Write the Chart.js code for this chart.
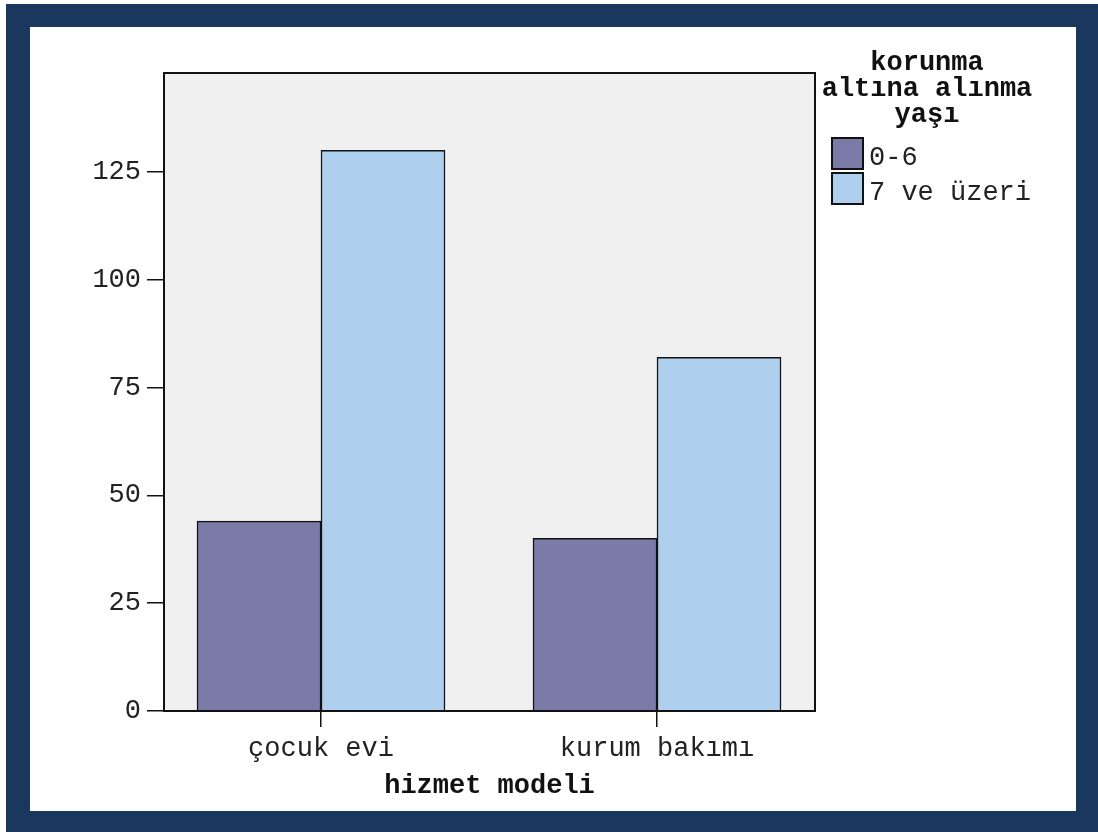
<!DOCTYPE html>
<html>
<head>
<meta charset="utf-8">
<script src="https://cdn.jsdelivr.net/npm/chart.js@4/dist/chart.umd.min.js"></script>
<style>
  html, body { margin: 0; padding: 0; background: #ffffff; width: 1098px; height: 832px; overflow: hidden; }
  #frame { position: absolute; left: 6px; top: 4px; width: 1092px; height: 828px; background: #1a375e; }
  #inner { position: absolute; left: 30px; top: 27px; width: 1046px; height: 784px; background: #ffffff; }
  #wrap { position: absolute; left: 0; top: 0; width: 1098px; height: 832px; }
</style>
</head>
<body>
<div id="frame"></div>
<div id="inner"></div>
<div id="wrap"><canvas id="c" width="1098" height="832"></canvas></div>
<script>
const categories = ['çocuk evi', 'kurum bakımı'];
const seriesNames = ['0-6', '7 ve üzeri'];
const values06 = [44, 40];
const values7plus = [130, 82];
const yTicks = [0, 25, 50, 75, 100, 125];
const xTitle = 'hizmet modeli';
const legendTitle = ['korunma', 'altına alınma', 'yaşı'];
const colors = ['#7b7ba8', '#aed0ee'];

const FONT = '"Liberation Mono", "Courier New", monospace';

const plotBox = {
  id: 'plotBox',
  beforeDatasetsDraw(chart) {
    const a = chart.chartArea, ctx = chart.ctx;
    ctx.save();
    ctx.fillStyle = '#f0f0f0';
    ctx.fillRect(a.left, a.top, a.right - a.left, a.bottom - a.top);
    ctx.restore();
  },
  afterDatasetsDraw(chart) {
    const a = chart.chartArea, ctx = chart.ctx;
    ctx.save();
    ctx.strokeStyle = '#111';
    ctx.lineWidth = 2;
    ctx.strokeRect(a.left, a.top, a.right - a.left, a.bottom - a.top);
    ctx.restore();
  }
};

const customLegend = {
  id: 'customLegend',
  afterDraw(chart) {
    const ctx = chart.ctx;
    ctx.save();
    ctx.fillStyle = '#111';
    ctx.font = 'bold 27px ' + FONT;
    ctx.textAlign = 'center';
    ctx.textBaseline = 'middle';
    const tys = [63, 89, 115];
    legendTitle.forEach((t, i) => ctx.fillText(t, 927, tys[i]));
    const boxY = [138, 173];
    chart.data.datasets.forEach((ds, i) => {
      ctx.fillStyle = ds.backgroundColor;
      ctx.fillRect(832, boxY[i], 31, 31);
      ctx.strokeStyle = '#111';
      ctx.lineWidth = 2;
      ctx.strokeRect(832, boxY[i], 31, 31);
      ctx.fillStyle = '#222';
      ctx.font = '27px ' + FONT;
      ctx.textAlign = 'left';
      ctx.fillText(ds.label, 869, boxY[i] + 20);
    });
    ctx.restore();
  }
};

const mkData = vals => categories.map((c, i) => ({ x: i, y: vals[i] }));

new Chart(document.getElementById('c'), {
  type: 'bar',
  data: {
    datasets: [
      { label: seriesNames[0], data: mkData(values06), backgroundColor: colors[0], borderColor: '#111', borderWidth: 1.5, barThickness: 124 },
      { label: seriesNames[1], data: mkData(values7plus), backgroundColor: colors[1], borderColor: '#111', borderWidth: 1.5, barThickness: 124 }
    ]
  },
  options: {
    responsive: false,
    animation: false,
    layout: { padding: { left: 0, top: 73, right: 283, bottom: 0 } },
    plugins: { legend: { display: false }, tooltip: { enabled: false } },
    scales: {
      x: {
        type: 'linear',
        min: -0.4673,
        max: 1.4702,
        offset: false,
        afterBuildTicks(scale) { scale.ticks = categories.map((c, i) => ({ value: i })); },
        afterFit(scale) { scale.height = 121; },
        grid: { offset: false, drawOnChartArea: false, drawTicks: true, tickLength: 16, color: '#111', lineWidth: 1.5 },
        border: { display: false },
        ticks: {
          callback: v => categories[v] !== undefined ? categories[v] : '',
          font: { family: FONT, size: 27 },
          color: '#222',
          padding: 6,
          maxRotation: 0
        },
        title: { display: true, text: xTitle, font: { family: FONT, size: 27, weight: 'bold' }, color: '#111', padding: { top: 8, bottom: 30 } }
      },
      y: {
        min: 0,
        max: 147.9,
        afterBuildTicks(scale) { scale.ticks = yTicks.map(v => ({ value: v })); },
        afterFit(scale) { scale.width = 164; },
        grid: { drawOnChartArea: false, drawTicks: true, tickLength: 17, color: '#111', lineWidth: 1.5 },
        border: { display: false },
        ticks: { font: { family: FONT, size: 27 }, color: '#222', padding: 6 }
      }
    }
  },
  plugins: [plotBox, customLegend]
});
</script>
</body>
</html>
